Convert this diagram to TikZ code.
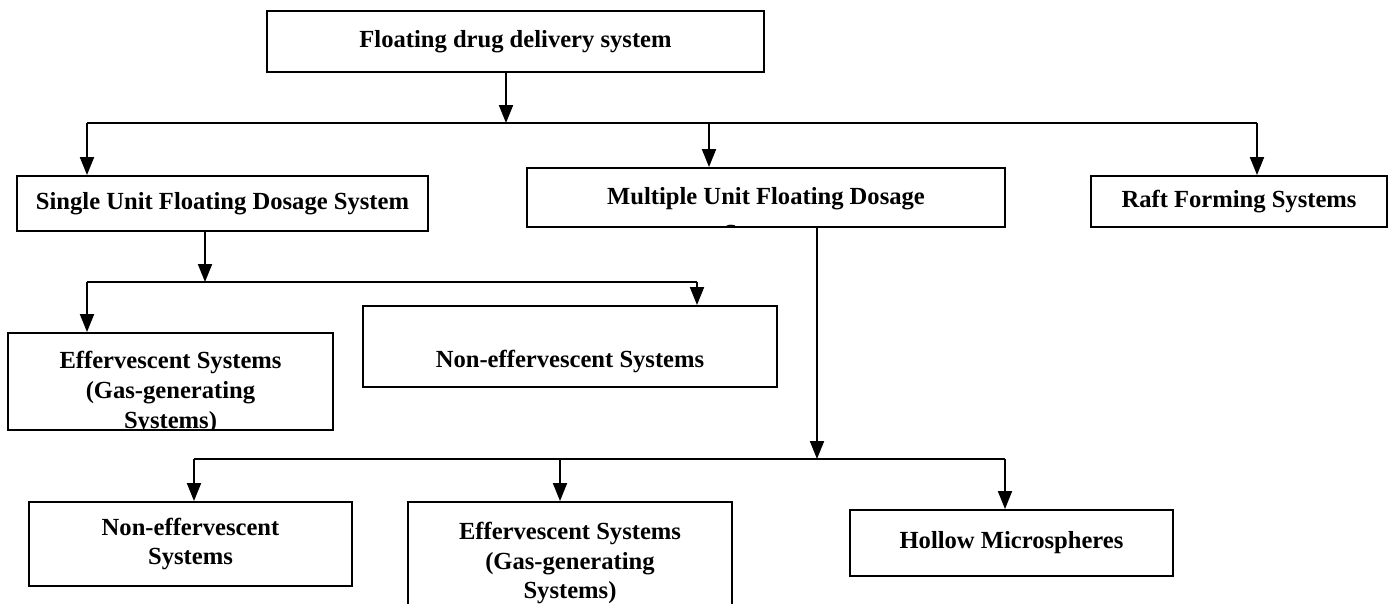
\documentclass[tikz,border=0pt]{standalone}
\usepackage{fontspec}
\setmainfont{Liberation Serif}
\usetikzlibrary{arrows.meta}

\begin{document}
\begin{tikzpicture}[
    x=0.02cm, y=-0.02cm,
    block/.style={rectangle, draw, line width=1.1pt, inner sep=0pt, align=center,
                  font=\fontsize{14}{17}\selectfont\bfseries},
    cliptext/.style={align=center, font=\fontsize{14}{17}\selectfont\bfseries},
    arrow/.style={-{Triangle[width=0.28cm,length=0.36cm]}, line width=1.1pt},
    link/.style={line width=1.1pt}
]
\useasboundingbox (0,0) rectangle (1393,603);

% level 0
\node[block, minimum width=9.94cm, minimum height=1.22cm] (fdds) at (515.5,41.5) {Floating drug delivery system};

% level 1
\node[block, minimum width=9.56cm, minimum height=1.18cm,
      path picture={\node[cliptext] at ([yshift=-0.4cm]path picture bounding box.center)
        {Multiple Unit Floating Dosage\\[4pt]Systems};}] (multiple) at (766,197.5) {};
\node[block, minimum width=8.22cm, minimum height=1.10cm] (single) at (222.5,203.5) {Single Unit Floating Dosage System};
\node[block, minimum width=5.92cm, minimum height=1.02cm] (raft) at (1239,201.5) {Raft Forming Systems};

% level 2 (single unit)
\node[block, minimum width=6.5cm, minimum height=1.94cm,
      path picture={\node[cliptext] at ([yshift=-0.22cm]path picture bounding box.center)
        {Effervescent Systems\\(Gas-generating\\Systems)};}] (effsingle) at (170.5,381.5) {};
\node[block, minimum width=8.28cm, minimum height=1.62cm, text height=0.93cm, text depth=0.1cm] (noneffsingle) at (570,346.5) {Non-effervescent Systems};

% level 2 (multiple unit)
\node[block, minimum width=6.46cm, minimum height=1.68cm] (noneffmulti) at (190.5,544) {Non-effervescent\\Systems};
\node[block, minimum width=6.48cm, minimum height=2.12cm,
      path picture={\node[cliptext] at ([yshift=-0.16cm]path picture bounding box.center)
        {Effervescent Systems\\(Gas-generating\\Systems)};}] (effmulti) at (570,555) {};
\node[block, minimum width=6.46cm, minimum height=1.32cm] (hollow) at (1011.5,543) {Hollow Microspheres};

% branch points
\coordinate (j0) at (506,123);
\coordinate (j1) at (87,123);
\coordinate (j2) at (709,123);
\coordinate (j3) at (1257,123);
\coordinate (k0) at (205,282);
\coordinate (k1) at (87,282);
\coordinate (k2) at (697,282);
\coordinate (m0) at (817,459);
\coordinate (m1) at (194,459);
\coordinate (m2) at (560,459);
\coordinate (m3) at (1005,459);

\draw[arrow] (fdds.south -| j0) -- (j0);
\draw[link] (j1) -- (j3);
\draw[arrow] (j1) -- (j1 |- single.north);
\draw[arrow] (j2) -- (j2 |- multiple.north);
\draw[arrow] (j3) -- (j3 |- raft.north);

\draw[arrow] (single.south -| k0) -- (k0);
\draw[link] (k1) -- (k2);
\draw[arrow] (k1) -- (k1 |- effsingle.north);
\draw[arrow] (k2) -- (k2 |- noneffsingle.north);

\draw[arrow] (multiple.south -| m0) -- (m0);
\draw[link] (m1) -- (m3);
\draw[arrow] (m1) -- (m1 |- noneffmulti.north);
\draw[arrow] (m2) -- (m2 |- effmulti.north);
\draw[arrow] (m3) -- (m3 |- hollow.north);
\end{tikzpicture}
\end{document}
